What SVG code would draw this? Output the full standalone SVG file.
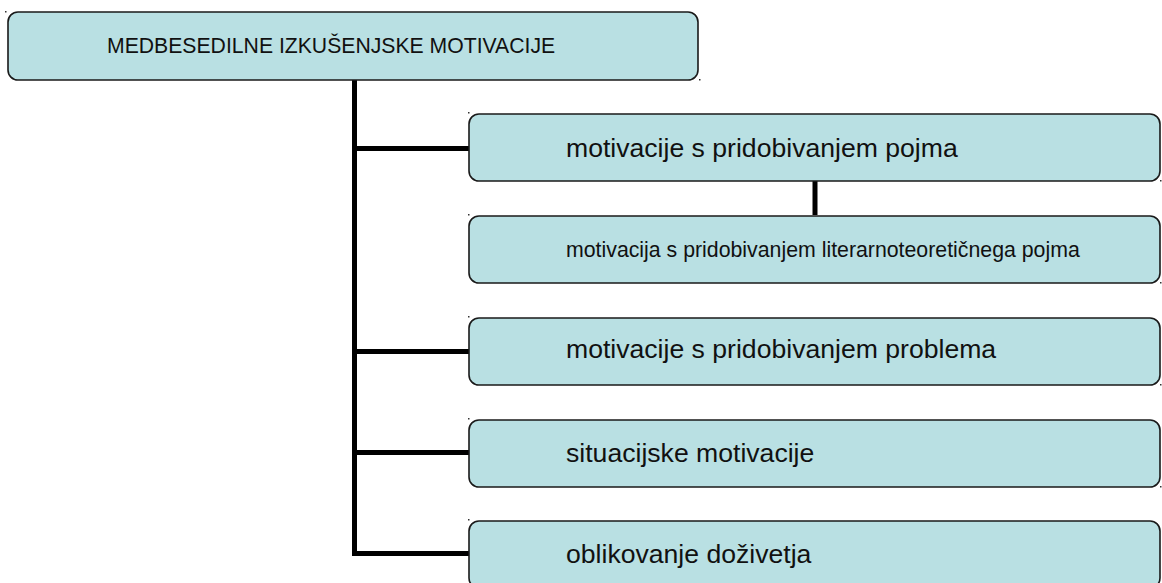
<svg xmlns="http://www.w3.org/2000/svg" width="1162" height="583" viewBox="0 0 1162 583">
  <style>
    .box { fill: #b9e0e3; stroke: #1a1a1a; stroke-width: 1.6; }
    .lbl { font-family: "Liberation Sans", Arial, sans-serif; fill: #111; }
    .big { font-size: 26.6px; }
    .wire { stroke: #000; stroke-width: 5; fill: none; }
    .dot { fill: #333; }
  </style>
  <rect width="1162" height="583" fill="#fff"/>

  <!-- tree connectors -->
  <g id="connectors">
    <path class="wire" d="M354.5 80 V553.5 M352 148.5 H469 M352 351.5 H469 M352 452.5 H469 M352 553.5 H469"/>
    <path class="wire" d="M815 181 V215"/>
  </g>

  <g id="root">
    <rect class="box" x="8" y="12" width="690" height="68" rx="10"/>
    <rect class="dot" x="5" y="11" width="1.5" height="1.5"/>
    <rect class="dot" x="699" y="79" width="1.5" height="1.5"/>
    <text class="lbl" x="107" y="53" font-size="21.2">MEDBESEDILNE IZKUŠENJSKE MOTIVACIJE</text>
  </g>

  <g id="n1">
    <rect class="box" x="469" y="114" width="691" height="67" rx="10"/>
    <rect class="dot" x="468" y="112" width="1.5" height="1.5"/>
    <rect class="dot" x="1160" y="180" width="1.5" height="1.5"/>
    <text class="lbl big" x="566" y="157">motivacije s pridobivanjem pojma</text>
  </g>

  <g id="n1a">
    <rect class="box" x="469" y="216" width="691" height="67" rx="10"/>
    <rect class="dot" x="468" y="214" width="1.5" height="1.5"/>
    <rect class="dot" x="1160" y="282" width="1.5" height="1.5"/>
    <text class="lbl" x="566" y="257" font-size="21.3">motivacija s pridobivanjem literarnoteoretičnega pojma</text>
  </g>

  <g id="n2">
    <rect class="box" x="469" y="318" width="691" height="67" rx="10"/>
    <rect class="dot" x="468" y="316" width="1.5" height="1.5"/>
    <rect class="dot" x="1160" y="384" width="1.5" height="1.5"/>
    <text class="lbl big" x="566" y="358">motivacije s pridobivanjem problema</text>
  </g>

  <g id="n3">
    <rect class="box" x="469" y="420" width="691" height="67" rx="10"/>
    <rect class="dot" x="468" y="418" width="1.5" height="1.5"/>
    <rect class="dot" x="1160" y="486" width="1.5" height="1.5"/>
    <text class="lbl big" x="566" y="462">situacijske motivacije</text>
  </g>

  <g id="n4">
    <rect class="box" x="469" y="521" width="691" height="67" rx="10"/>
    <rect class="dot" x="468" y="519" width="1.5" height="1.5"/>
    <text class="lbl big" x="566" y="563">oblikovanje doživetja</text>
  </g>
</svg>
